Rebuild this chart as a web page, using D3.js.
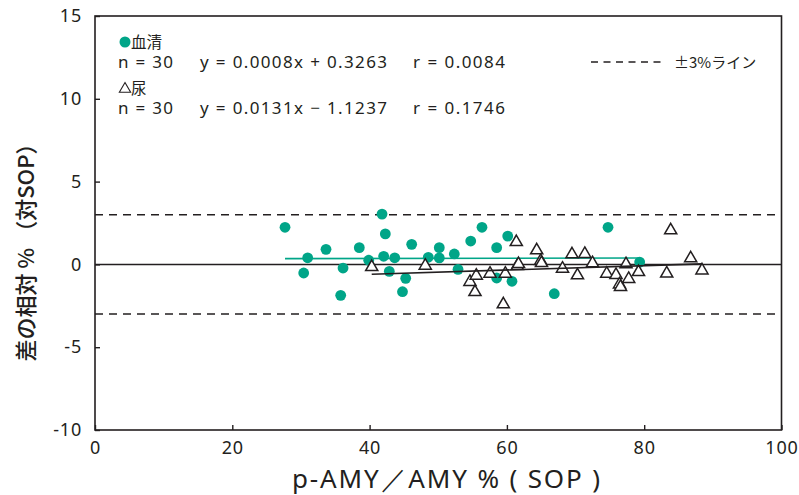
<!DOCTYPE html>
<html><head><meta charset="utf-8">
<script src="https://cdn.jsdelivr.net/npm/d3@7"></script>
<style>
body{margin:0;background:#fff;}
text{font-family:"Noto Sans CJK JP","Noto Sans",sans-serif;fill:#231f20;}
</style></head>
<body><svg id="c" width="799" height="495"></svg>
<script>
// serum (血清) points
const serumX=[27.68,30.98,30.40,33.65,36.13,35.79,38.50,39.87,41.81,42.29,42.05,43.66,42.87,45.26,44.79,46.13,48.55,50.15,50.15,52.34,52.88,54.73,56.37,58.51,60.12,58.51,60.74,74.73,66.90,79.34];
const serumY=[2.24,0.40,-0.52,0.91,-0.22,-1.87,1.01,0.25,3.04,1.84,0.49,0.40,-0.42,-0.84,-1.65,1.21,0.43,1.01,0.39,0.63,-0.30,1.41,2.24,1.01,1.71,-0.82,-1.02,2.24,-1.77,0.14];
// urine (尿) points
const urineX=[40.31,48.11,54.62,55.35,55.54,57.54,59.77,59.48,61.37,61.52,61.69,64.34,64.92,65.04,68.10,69.48,70.28,71.35,72.47,74.54,75.89,76.40,76.55,77.74,77.35,79.17,83.28,83.86,86.77,88.42];
const urineY=[-0.10,-0.02,-1.00,-1.61,-0.62,-0.50,-0.50,-2.35,1.41,-0.04,0.08,0.91,0.27,0.14,-0.20,0.67,-0.60,0.69,0.13,-0.50,-0.58,-1.15,-1.30,-0.82,0.07,-0.40,-0.49,2.12,0.43,-0.30];
// regression lines [slope, intercept]
const serumFit=[0.0008,0.3263];
const urineFit=[0.0131,-1.1237];
const limits=[3,-3];
const xTicks=[0,20,40,60,80,100];
const yTicks=[15,10,5,0,-5,-10];
const legendLines=["n = 30","y = 0.0008x + 0.3263","r = 0.0084","n = 30","y = 0.0131x − 1.1237","r = 0.1746"];

const green="#00a588";
const svg=d3.select("#c");
const L=95,R=781.5,T=16,B=430;
const x=d3.scaleLinear().domain([0,100]).range([L,R]);
const y=d3.scaleLinear().domain([-10,15]).range([B,T]);

// frame
svg.append("rect").attr("x",L).attr("y",T).attr("width",R-L).attr("height",B-T)
  .attr("fill","none").attr("stroke","#231f20").attr("stroke-width",1.6);

const fmt=d=>String(d);
// axes ticks inward
const xa=svg.append("g").attr("transform",`translate(0,${B})`)
  .call(d3.axisBottom(x).tickValues(xTicks).tickFormat(fmt).tickSizeInner(-5).tickSizeOuter(0).tickPadding(11));
xa.select(".domain").remove();
xa.selectAll("line").attr("stroke","#231f20").attr("stroke-width",1.4);
xa.selectAll("text").style("font-family","'Noto Sans',sans-serif").style("font-size","18px").style("letter-spacing","0.8px").attr("fill","#231f20");
const ya=svg.append("g").attr("transform",`translate(${L},0)`)
  .call(d3.axisLeft(y).tickValues(yTicks).tickFormat(fmt).tickSizeInner(-5).tickSizeOuter(0).tickPadding(13));
ya.select(".domain").remove();
ya.selectAll("line").attr("stroke","#231f20").attr("stroke-width",1.4);
ya.selectAll("text").style("font-family","'Noto Sans',sans-serif").style("font-size","18px").style("letter-spacing","0.8px").attr("fill","#231f20");

// zero line
svg.append("line").attr("x1",L).attr("x2",R).attr("y1",y(0)).attr("y2",y(0))
  .attr("stroke","#231f20").attr("stroke-width",1.5);
// ±3 lines
svg.selectAll(".lim").data(limits).join("line").attr("x1",L).attr("x2",R)
  .attr("y1",d=>y(d)).attr("y2",d=>y(d)).attr("stroke","#231f20").attr("stroke-width",1.5)
  .attr("stroke-dasharray","8,6");

// serum points
svg.append("g").selectAll("circle").data(serumX).join("circle")
  .attr("cx",d=>x(d)).attr("cy",(d,i)=>y(serumY[i])).attr("r",5.4).attr("fill",green);

// serum regression
const sx=d3.extent(serumX);
svg.append("line").attr("x1",x(sx[0])).attr("x2",x(sx[1]))
  .attr("y1",y(serumFit[0]*sx[0]+serumFit[1])).attr("y2",y(serumFit[0]*sx[1]+serumFit[1]))
  .attr("stroke",green).attr("stroke-width",1.6);

// urine triangles
const tri=d3.symbol().type(d3.symbolTriangle).size(64);
svg.append("g").selectAll("path").data(urineX).join("path")
  .attr("d",tri).attr("transform",(d,i)=>`translate(${x(d)},${y(urineY[i])+1})`)
  .attr("fill","#fff").attr("stroke","#231f20").attr("stroke-width",1.5);

// urine regression
const ux=d3.extent(urineX);
svg.append("line").attr("x1",x(ux[0])).attr("x2",x(ux[1]))
  .attr("y1",y(urineFit[0]*ux[0]+urineFit[1])).attr("y2",y(urineFit[0]*ux[1]+urineFit[1]))
  .attr("stroke","#231f20").attr("stroke-width",1.6);

// legend
const lg=svg.append("g").style("font-size","15px");
lg.append("circle").attr("cx",125).attr("cy",42).attr("r",5.5).attr("fill",green);
lg.append("text").attr("x",131).attr("y",47.5).style("font-size","15.5px").text("血清");
const cols=[118,200,413];
const widths=[55,187,92];
legendLines.forEach((t,i)=>{
  lg.append("text").attr("x",cols[i%3]).attr("y",i<3?68:114)
    .style("font-family","'Noto Sans',sans-serif").style("font-size","17px")
    .attr("textLength",widths[i%3]).attr("lengthAdjust","spacing").text(t);
});
lg.append("path").attr("d",d3.symbol().type(d3.symbolTriangle).size(55)).attr("transform","translate(125,89)")
  .attr("fill","none").attr("stroke","#231f20").attr("stroke-width",1.1);
lg.append("text").attr("x",131).attr("y",94).style("font-size","15.5px").text("尿");
lg.append("line").attr("x1",591).attr("x2",666).attr("y1",62).attr("y2",62)
  .attr("stroke","#231f20").attr("stroke-width",1.5).attr("stroke-dasharray","7,5.5");
lg.append("text").attr("x",674).attr("y",67.5).text("±3%ライン");

// axis titles
svg.append("text").attr("x",292).attr("y",488)
  .style("font-size","26px").style("font-family","'Noto Sans',sans-serif")
  .attr("textLength",308).attr("lengthAdjust","spacing").text("p-AMY／AMY % ( SOP )");
svg.append("text").attr("transform","translate(34,247) rotate(-90)").attr("text-anchor","middle")
  .style("font-size","22px").style("font-weight","500").text("差の相対 % （対SOP）");
</script></body></html>
